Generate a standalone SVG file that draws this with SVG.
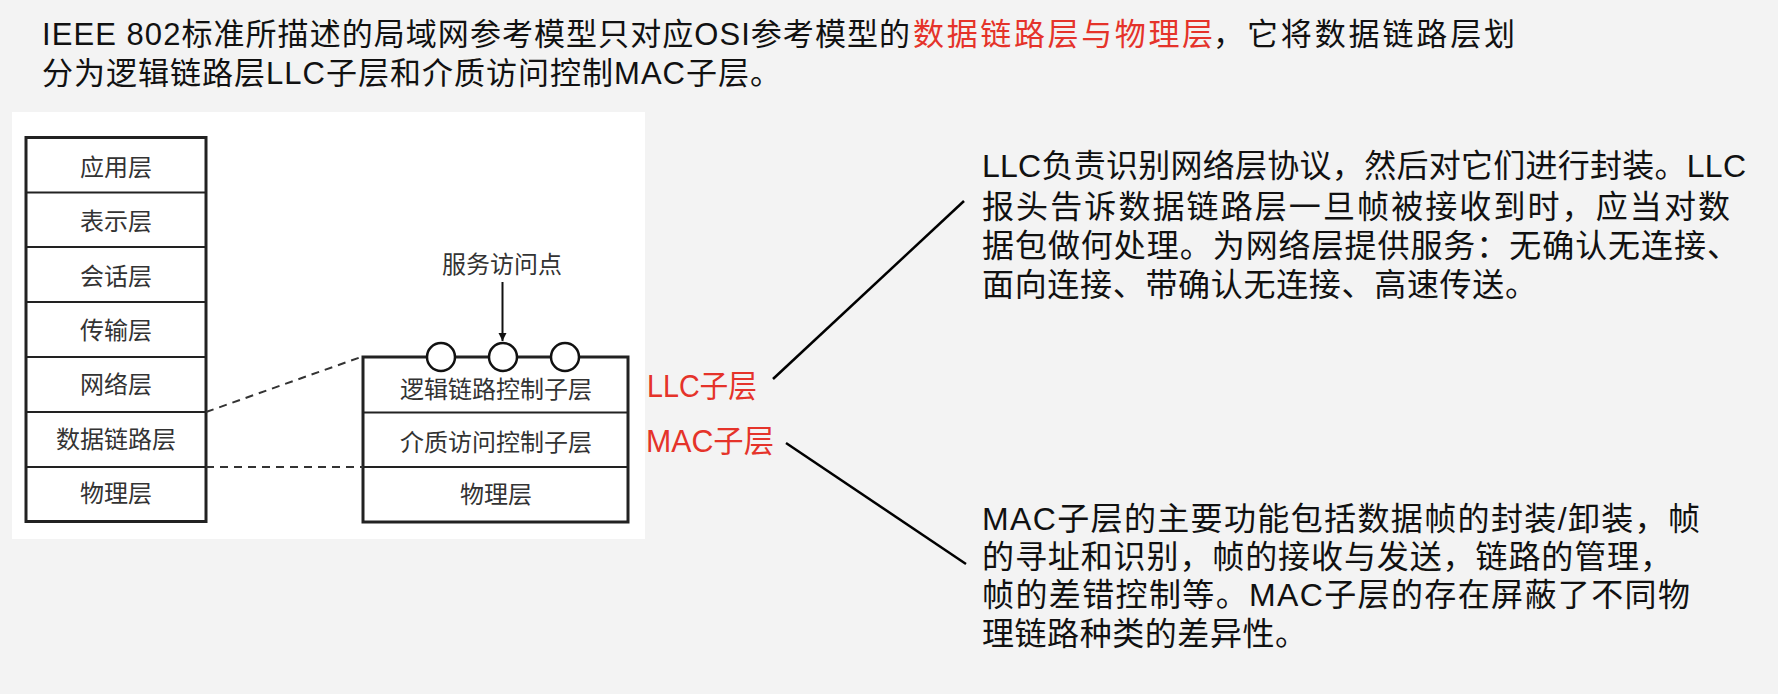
<svg xmlns="http://www.w3.org/2000/svg" width="1778" height="694" viewBox="0 0 1778 694">
<defs>
<style>
.t{font-family:"Liberation Sans","Noto Sans CJK SC",sans-serif;fill:#111}
.para{font-size:32px}
.title{font-size:31px}
.red{fill:#e5332a}
.lbl{font-size:31px}
.dg{font-family:"Noto Sans CJK SC",sans-serif;font-size:24px;fill:#333;text-anchor:middle}
.box{fill:none;stroke:#222;stroke-width:3}
.sep{stroke:#222;stroke-width:2}
.dash{stroke:#333;stroke-width:2;stroke-dasharray:8 6;fill:none}
.con{stroke:#000;stroke-width:2.5;fill:none}
.sap{fill:#fff;stroke:#111;stroke-width:2.5}
</style>
<marker id="ah" viewBox="0 0 10 10" refX="10" refY="5" markerWidth="8" markerHeight="12" markerUnits="userSpaceOnUse" orient="auto">
<path d="M0,0 L10,5 L0,10 Z" fill="#111"/>
</marker>
</defs>
<rect x="0" y="0" width="1778" height="694" fill="#f3f3f3"/>
<g id="title">
<text class="t title" y="45"><tspan x="42" textLength="868" lengthAdjust="spacing">IEEE 802标准所描述的局域网参考模型只对应OSI参考模型的</tspan><tspan class="red" x="913" textLength="300" lengthAdjust="spacing">数据链路层与物理层</tspan><tspan x="1213" textLength="302" lengthAdjust="spacing">，它将数据链路层划</tspan></text>
<text class="t title" x="42" y="84" textLength="739" lengthAdjust="spacing">分为逻辑链路层LLC子层和介质访问控制MAC子层。</text>
</g>
<rect x="12" y="112" width="633" height="427" fill="#fff"/>
<g id="osi-stack">
<rect class="box" x="26" y="137.5" width="180" height="384"/>
<line class="sep" x1="26" y1="192.5" x2="206" y2="192.5"/>
<line class="sep" x1="26" y1="247" x2="206" y2="247"/>
<line class="sep" x1="26" y1="302" x2="206" y2="302"/>
<line class="sep" x1="26" y1="357" x2="206" y2="357"/>
<line class="sep" x1="26" y1="412" x2="206" y2="412"/>
<line class="sep" x1="26" y1="467" x2="206" y2="467"/>
<text class="dg" x="116" y="176">应用层</text>
<text class="dg" x="116" y="230">表示层</text>
<text class="dg" x="116" y="285">会话层</text>
<text class="dg" x="116" y="339">传输层</text>
<text class="dg" x="116" y="393">网络层</text>
<text class="dg" x="116" y="448">数据链路层</text>
<text class="dg" x="116" y="502">物理层</text>
</g>
<g id="lan-stack">
<rect class="box" x="363" y="357" width="265" height="165"/>
<line class="sep" x1="363" y1="412.5" x2="628" y2="412.5"/>
<line class="sep" x1="363" y1="467" x2="628" y2="467"/>
<circle class="sap" cx="441" cy="357" r="14"/>
<circle class="sap" cx="503" cy="357" r="14"/>
<circle class="sap" cx="565" cy="357" r="14"/>
<text class="dg" x="496" y="398">逻辑链路控制子层</text>
<text class="dg" x="496" y="451">介质访问控制子层</text>
<text class="dg" x="496" y="503">物理层</text>
</g>
<g id="sap-label">
<text class="dg" x="502" y="273">服务访问点</text>
</g>
<g id="sublayer-labels">
<text class="t red lbl" x="647" y="397" textLength="110" lengthAdjust="spacingAndGlyphs">LLC子层</text>
<text class="t red lbl" x="646" y="452" textLength="128" lengthAdjust="spacingAndGlyphs">MAC子层</text>
</g>
<g id="llc-desc">
<text class="t para" x="982" y="177" textLength="764" lengthAdjust="spacing">LLC负责识别网络层协议，然后对它们进行封装。LLC</text>
<text class="t para" x="982" y="218" textLength="748" lengthAdjust="spacing">报头告诉数据链路层一旦帧被接收到时，应当对数</text>
<text class="t para" x="982" y="257" textLength="757" lengthAdjust="spacing">据包做何处理。为网络层提供服务：无确认无连接、</text>
<text class="t para" x="982" y="296" textLength="555" lengthAdjust="spacing">面向连接、带确认无连接、高速传送。</text>
</g>
<g id="mac-desc">
<text class="t para" x="982" y="530" textLength="718" lengthAdjust="spacing">MAC子层的主要功能包括数据帧的封装/卸装，帧</text>
<text class="t para" x="982" y="568" textLength="690" lengthAdjust="spacing">的寻址和识别，帧的接收与发送，链路的管理，</text>
<text class="t para" x="982" y="606" textLength="708" lengthAdjust="spacing">帧的差错控制等。MAC子层的存在屏蔽了不同物</text>
<text class="t para" x="982" y="645" textLength="325" lengthAdjust="spacing">理链路种类的差异性。</text>
</g>
<g id="connectors">
<line class="dash" x1="206" y1="412" x2="361" y2="357"/>
<line class="dash" x1="206" y1="467" x2="363" y2="467"/>
<line x1="502.5" y1="282" x2="502.5" y2="341" stroke="#111" stroke-width="2" marker-end="url(#ah)"/>
<line class="con" x1="773" y1="379" x2="964" y2="201"/>
<line class="con" x1="786" y1="443" x2="966" y2="564"/>
</g>
</svg>
